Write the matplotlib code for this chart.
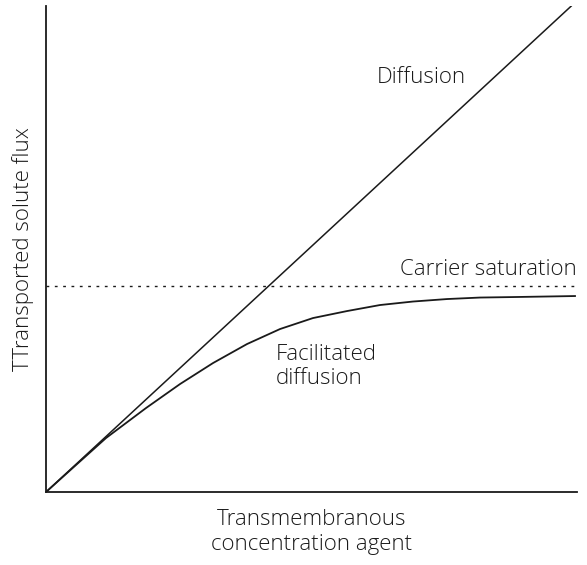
import matplotlib
matplotlib.use("Agg")
import matplotlib.pyplot as plt

# data (arbitrary units, 0-100 on both axes)
diff_x = [0, 98.9]
diff_y = [0, 100]
sat_level = 42.4
fac_x = [0, 5.65, 11.3, 15.07, 18.83, 25.24, 31.45, 37.85, 44.07, 50.28,
         56.69, 62.9, 69.11, 75.52, 81.73, 87.95, 99.62]
fac_y = [0, 5.56, 11.11, 14.2, 17.28, 22.22, 26.54, 30.45, 33.54, 35.8,
         37.24, 38.48, 39.2, 39.71, 40.02, 40.12, 40.33]

plt.rcParams['font.family'] = ['Open Sans', 'DejaVu Sans']

fig = plt.figure(figsize=(5.87, 5.65), dpi=100)
ax = fig.add_axes([0.0784, 0.1292, 0.9046, 0.860])

ax.plot(diff_x, diff_y, color="#1a1a1a", lw=1.1)
ax.plot(fac_x, fac_y, color="#1a1a1a", lw=1.3)
ax.axhline(sat_level, color="#1a1a1a", lw=1.0, ls=(0, (2, 4)))

tkw = dict(fontsize=16, color="#1a1a1a", fontweight="light")
ax.text(70.6, 85.4, "Diffusion", ha="center", va="center", **tkw)
ax.text(100, 45.7, "Carrier saturation", ha="right", va="center", **tkw)
ax.text(43.3, 25.8, "Facilitated\ndiffusion", ha="left", va="center",
        linespacing=1.15, **tkw)

ax.set_xlim(0, 100)
ax.set_ylim(0, 100)
ax.set_xticks([]); ax.set_yticks([])
for s in ("top", "right"):
    ax.spines[s].set_visible(False)
for s in ("left", "bottom"):
    ax.spines[s].set_linewidth(1.3)
    ax.spines[s].set_color("#1a1a1a")

ax.set_xlabel("Transmembranous\nconcentration agent", labelpad=12,
              linespacing=1.3, **tkw)
ax.set_ylabel("TTransported solute flux", labelpad=9, **tkw)

fig.savefig("out.png", dpi=100)
